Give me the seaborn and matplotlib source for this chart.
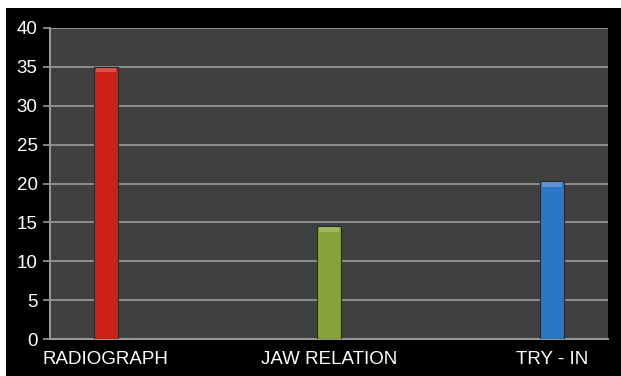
import matplotlib
matplotlib.use('Agg')
import matplotlib.pyplot as plt
import matplotlib.patches as mpatches
import seaborn as sns
import pandas as pd

# data
categories = ['RADIOGRAPH', 'JAW RELATION', 'TRY - IN']
values = [35.0, 14.5, 20.3]
bar_colors = ['#cc2219', '#87a43c', '#2c76c8']
# empty slots between the labelled categories
slot_order = ['RADIOGRAPH', 'gap1', 'JAW RELATION', 'gap2', 'TRY - IN']

df = pd.DataFrame({'step': categories, 'value': values})

sns.set_style('dark')
plt.rcParams['font.family'] = ['Liberation Sans', 'DejaVu Sans']

fig = plt.figure(figsize=(6.21, 3.76), dpi=100, facecolor='black')
ax = fig.add_axes([50 / 621, 1 - 339 / 376, 558 / 621, 311 / 376])
ax.set_facecolor('#3f4040')

# white margin strips on the top and left of the picture
fig.patches.append(mpatches.Rectangle((0, 1 - 8 / 376), 1, 8 / 376, transform=fig.transFigure,
                                      facecolor='white', edgecolor='none', zorder=10))
fig.patches.append(mpatches.Rectangle((0, 0), 6 / 621, 1, transform=fig.transFigure,
                                      facecolor='white', edgecolor='none', zorder=10))

sns.barplot(data=df, x='step', y='value', hue='step', order=slot_order, hue_order=categories,
            palette=bar_colors, saturation=1, width=0.22, legend=False, ax=ax, zorder=3,
            edgecolor='#2a2a2a', linewidth=0.8)

# light top cap to hint the 3D look
for p in ax.patches:
    h = p.get_height()
    ax.add_patch(mpatches.Rectangle((p.get_x() + p.get_width() * 0.1, h - 0.7),
                                    p.get_width() * 0.8, 0.55, facecolor='white',
                                    alpha=0.22, edgecolor='none', zorder=4))

ax.set_xlim(-0.5, 4.5)
ax.set_ylim(0, 40)
ax.set_yticks(range(0, 41, 5))
ax.yaxis.grid(True, color='#8e8e8e', linewidth=1.4, zorder=1)
ax.xaxis.grid(False)

# slot boundary ticks on the x axis, labels centred under the bars
ax.set_xticks([-0.5, 0.5, 1.5, 2.5, 3.5, 4.5])
ax.set_xticklabels([])
ax.set_xticks([0, 2, 4], minor=True)
ax.set_xticklabels(categories, minor=True)
ax.tick_params(axis='x', which='major', length=5, width=1.2, color='#9a9a9a', direction='out')
ax.tick_params(axis='x', which='minor', length=0, pad=9, labelsize=13.5, labelcolor='white')
ax.tick_params(axis='y', length=5, width=1.2, color='#9a9a9a', labelsize=13.5,
               labelcolor='white', pad=4, left=True)

ax.set_xlabel('')
ax.set_ylabel('')
for side in ['top', 'right']:
    ax.spines[side].set_visible(False)
for side in ['left', 'bottom']:
    ax.spines[side].set_visible(True)
    ax.spines[side].set_color('#9a9a9a')
    ax.spines[side].set_linewidth(1.4)

fig.savefig('out.png', dpi=100, facecolor='black')
